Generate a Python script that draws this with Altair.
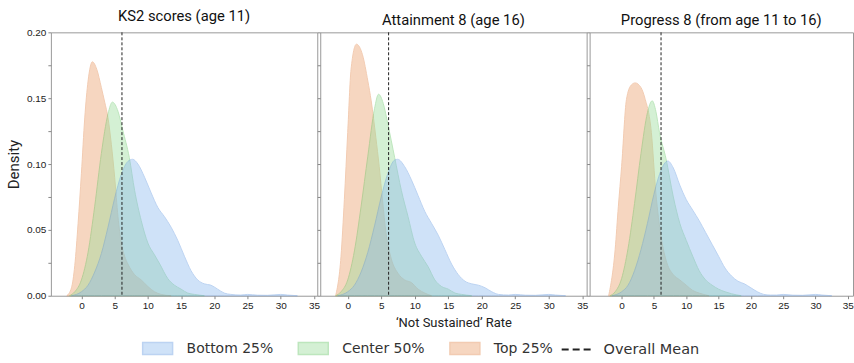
import altair as alt
import pandas as pd

panel_titles = ["KS2 scores (age 11)", "Attainment 8 (age 16)", "Progress 8 (from age 11 to 16)"]
group_names = ["Bottom 25%", "Center 50%", "Top 25%"]
overall_mean = [6.1, 6.1, 6.1]
x_ticks = [0, 5, 10, 15, 20, 25, 30, 35]
y_ticks = [0, 0.025, 0.05, 0.075, 0.1, 0.125, 0.15, 0.175, 0.2]

# ---- KS2 scores (age 11)
ks2_top_x = [-2.2, -1.5, -1, -0.5, 0, 0.5, 1, 1.65, 2.3, 3, 3.5, 4, 4.5, 5, 5.5, 6, 6.5, 7, 8, 9, 10, 11, 12, 13.5]
ks2_top_y = [0, 0.006, 0.023, 0.055, 0.093, 0.135, 0.163, 0.1776, 0.172, 0.158, 0.147, 0.135, 0.115, 0.09, 0.06, 0.04, 0.03, 0.024, 0.016, 0.012, 0.007, 0.003, 0.001, 0]
ks2_center_x = [-1.8, -1, 0, 1, 2, 3, 4, 4.66, 5.5, 6.2, 7.2, 8, 9, 10, 11, 11.8, 13, 14, 15, 16, 17, 18.5]
ks2_center_y = [0, 0.003, 0.012, 0.033, 0.068, 0.108, 0.138, 0.147, 0.14, 0.126, 0.105, 0.08, 0.057, 0.04, 0.031, 0.024, 0.013, 0.008, 0.005, 0.002, 0.001, 0]
ks2_bottom_x = [-1.5, 0, 1, 2, 3, 4, 5, 6, 7, 7.7, 8.5, 9.5, 10.5, 11.5, 12.5, 13.5, 14.5, 15.5, 16.5, 17.5, 18.5, 19.5, 20.5, 21.5, 22.5, 24, 25, 26.5, 28, 30, 31, 32.5]
ks2_bottom_y = [0, 0.003, 0.008, 0.018, 0.032, 0.052, 0.074, 0.092, 0.102, 0.1036, 0.1, 0.09, 0.078, 0.067, 0.06, 0.052, 0.042, 0.03, 0.019, 0.012, 0.009, 0.008, 0.005, 0.002, 0.001, 0.0005, 0.001, 0.0004, 0.0003, 0.001, 0.0005, 0]

# ---- Attainment 8 (age 16)
att_top_x = [-1.8, -1, -0.5, 0, 0.5, 1.3, 2.2, 3, 3.5, 4.2, 4.7, 5.2, 5.7, 6.5, 7.5, 8.5, 9.5, 10.5, 11.5, 12.5]
att_top_y = [0, 0.03, 0.073, 0.124, 0.172, 0.191, 0.183, 0.163, 0.148, 0.12, 0.098, 0.072, 0.048, 0.028, 0.017, 0.012, 0.01, 0.005, 0.002, 0]
att_center_x = [-1.8, -1, 0, 1, 2, 3, 4, 4.6, 5.3, 6, 7, 8, 9, 10, 11, 12, 13, 14, 15, 16, 17, 18.5]
att_center_y = [0, 0.003, 0.012, 0.034, 0.068, 0.106, 0.142, 0.153, 0.146, 0.13, 0.105, 0.08, 0.06, 0.04, 0.03, 0.022, 0.012, 0.007, 0.005, 0.002, 0.001, 0]
att_bottom_x = [-1.5, 0, 1, 2, 3, 4, 5, 6, 7, 7.45, 8.5, 9.5, 10.5, 11.5, 12.5, 13.5, 14.5, 15.5, 16.5, 17.5, 18.5, 19.5, 20.5, 21.5, 22.5, 24, 25, 26.5, 28, 30, 31, 32.5]
att_bottom_y = [0, 0.003, 0.008, 0.018, 0.033, 0.053, 0.075, 0.093, 0.103, 0.1036, 0.098, 0.088, 0.076, 0.064, 0.055, 0.046, 0.035, 0.024, 0.016, 0.011, 0.009, 0.008, 0.006, 0.003, 0.001, 0.0005, 0.001, 0.0004, 0.0003, 0.001, 0.0005, 0]

# ---- Progress 8 (from age 11 to 16)
p8_top_x = [-2, -1, -0.5, 0, 0.75, 1.5, 2.1, 3, 3.6, 4.6, 5.3, 6.1, 7, 8, 9, 10, 11, 12, 13.5]
p8_top_y = [0, 0.035, 0.068, 0.098, 0.149, 0.16, 0.1616, 0.158, 0.15, 0.124, 0.078, 0.045, 0.025, 0.016, 0.012, 0.008, 0.004, 0.002, 0]
p8_center_x = [-1.8, -1, 0, 1, 2, 3, 4, 4.73, 5.3, 5.85, 6.87, 8, 9, 10, 11, 12, 13, 14, 15, 16, 17, 18.5]
p8_center_y = [0, 0.003, 0.013, 0.036, 0.07, 0.108, 0.139, 0.148, 0.14, 0.124, 0.104, 0.075, 0.055, 0.042, 0.03, 0.019, 0.012, 0.008, 0.005, 0.003, 0.0015, 0]
p8_bottom_x = [-1.5, 0, 1, 2, 3, 4, 5, 6, 7.15, 8, 9, 10, 11, 12, 13, 14, 15, 16, 17, 18, 19, 20, 21, 22, 23, 24, 25, 26.5, 28, 30, 31, 32.5]
p8_bottom_y = [0, 0.003, 0.008, 0.019, 0.035, 0.055, 0.077, 0.094, 0.1023, 0.097, 0.084, 0.073, 0.065, 0.057, 0.048, 0.039, 0.03, 0.021, 0.015, 0.011, 0.009, 0.006, 0.003, 0.001, 0.0005, 0.0005, 0.001, 0.0004, 0.0003, 0.001, 0.0005, 0]

curves = [
    (0, "Bottom 25%", ks2_bottom_x, ks2_bottom_y),
    (0, "Center 50%", ks2_center_x, ks2_center_y),
    (0, "Top 25%", ks2_top_x, ks2_top_y),
    (1, "Bottom 25%", att_bottom_x, att_bottom_y),
    (1, "Center 50%", att_center_x, att_center_y),
    (1, "Top 25%", att_top_x, att_top_y),
    (2, "Bottom 25%", p8_bottom_x, p8_bottom_y),
    (2, "Center 50%", p8_center_x, p8_center_y),
    (2, "Top 25%", p8_top_x, p8_top_y),
]

rows = []
for p, g, xs, ys in curves:
    for xv, yv in zip(xs, ys):
        rows.append({"panel": p, "group": g, "x": xv, "density": yv})
df = pd.DataFrame(rows)

fill_scale = alt.Scale(domain=group_names, range=["#8ab8ee", "#96dc96", "#eb9b64"])
stroke_scale = alt.Scale(domain=group_names, range=["#5a94e0", "#5cc25c", "#e08040"])

LEG_Y = 301
group_legend = alt.Legend(
    title=None, orient="none", legendX=91, legendY=LEG_Y, direction="horizontal",
    symbolType="M-1,-0.4H1V0.4H-1Z", symbolSize=900, symbolStrokeWidth=1.5,
    labelFont="DejaVu Sans", labelFontSize=14, labelColor="#333333",
    labelOffset=13, columnPadding=22, padding=0, labelLimit=300,
)
dash_legend = alt.Legend(
    title=None, orient="none", legendX=511, legendY=LEG_Y, direction="horizontal",
    symbolType="stroke", symbolSize=1024, symbolStrokeWidth=2, symbolStrokeColor="#222222",
    symbolDash=[7, 4], symbolOpacity=1, labelFont="DejaVu Sans", labelFontSize=14.5, labelColor="#333333",
    labelOffset=9, padding=0, labelLimit=300,
)

x_domains = [[-4.6, 35.5], [-4.1, 35.65], [-4.95, 35.8]]
widths = [267, 267, 264]


def make_panel(i):
    pdata = df[df["panel"] == i]
    x_axis = alt.Axis(
        values=x_ticks, tickCount=40, format="d", tickSize=3, labelPadding=2, grid=False, domain=False,
        labelFlush=False, labelOverlap=False, labelBound=False,
        title="\u2018Not Sustained\u2019 Rate" if i == 1 else None,
        titleFontSize=13, titleFont="Roboto", titleFontWeight="normal", titleColor="#222222",
        titlePadding=6,
    )
    if i == 0:
        y_axis = alt.Axis(
            values=y_ticks, tickCount=40, tickSize=3, labelPadding=2, grid=False, domain=False,
            labelOverlap=False, labelFlush=False,
            labelExpr="round(datum.value*40) % 2 == 0 ? format(datum.value, '.2f') : ''",
            title="Density", titleFontSize=15, titleFont="Roboto", titleFontWeight="normal",
            titleColor="#222222", titlePadding=5,
        )
    else:
        y_axis = alt.Axis(values=y_ticks, tickCount=40, tickSize=3, labels=False, grid=False,
                          domain=False, title=None)

    xs = alt.Scale(domain=x_domains[i], nice=False, zero=False)
    ys = alt.Scale(domain=[0, 0.2], nice=False)
    base = alt.Chart(pdata)
    layers = []
    for g in ["Top 25%", "Center 50%", "Bottom 25%"]:
        layers.append(
            base.transform_filter(alt.datum.group == g)
            .mark_area(interpolate="monotone", opacity=0.4, strokeWidth=1)
            .encode(
                x=alt.X("x:Q", scale=xs, axis=x_axis),
                y=alt.Y("density:Q", scale=ys, axis=y_axis),
                color=alt.Color("group:N", scale=fill_scale, legend=group_legend),
                stroke=alt.Stroke("group:N", scale=stroke_scale, legend=group_legend),
            )
        )
    mean_df = pd.DataFrame({"x": [overall_mean[i]], "kind": ["Overall Mean"]})
    rule = alt.Chart(mean_df).mark_rule(strokeWidth=1, color="#222222", strokeDash=[3, 2]).encode(
        x=alt.X("x:Q", scale=xs),
        opacity=alt.Opacity("kind:N", scale=alt.Scale(domain=["Overall Mean"], range=[1]), legend=dash_legend),
    )
    return alt.layer(*layers, rule).properties(
        width=widths[i], height=264,
        title=alt.TitleParams(panel_titles[i], fontSize=14.8, font="Roboto", fontWeight="normal",
                              color="#111111", offset=4),
    )


chart = alt.hconcat(make_panel(0), make_panel(1), make_panel(2), spacing=3, bounds="flush").resolve_scale(
    x="independent", color="shared", stroke="shared", opacity="shared"
).properties(
    padding={"left": 6, "top": 7, "right": 0, "bottom": 0},
    background="white",
).configure_view(
    stroke="#999999", strokeWidth=1
).configure_axis(
    labelFont="Liberation Sans", labelFontSize=10, labelColor="#222222", tickColor="#888888"
)

chart.save("out.html", embed_options={"renderer": "svg", "actions": False})
